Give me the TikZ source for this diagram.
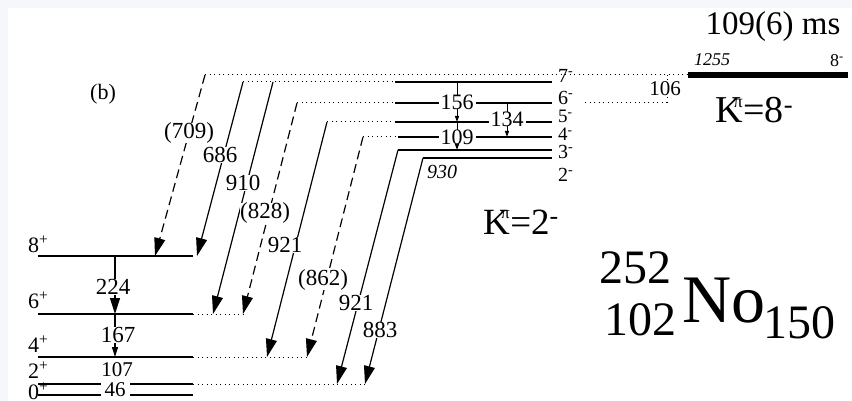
\documentclass[tikz,border=0pt]{standalone}
\usepackage{fontspec}
\setmainfont{Liberation Serif}
\usetikzlibrary{arrows.meta}
\definecolor{pagegray}{HTML}{F5F7FA}
\newcommand{\fs}[1]{\fontsize{#1}{#1}\selectfont}
\newcommand{\jpi}[2]{#1\textsuperscript{#2}}
\newcommand{\kpi}[2]{K\kern-.24em\raisebox{.42em}{\fs{#1}π}\kern.02em=#2\textsuperscript{-}}

\begin{document}
\begin{tikzpicture}[x=1pt,y=-1pt,
  lvl/.style={line width=1.4pt},
  ext/.style={line width=1pt,dash pattern=on 1pt off 3.5pt},
  gam/.style={line width=1.2pt,-{Triangle[length=18pt,width=11pt]}},
  tent/.style={gam,dash pattern=on 9pt off 5pt},
  inb/.style={line width=1pt,-{Triangle[length=6pt,width=4pt]}},
  elab/.style={font=\fs{23},inner sep=0pt,fill=white},
  spin/.style={font=\fs{22},inner sep=0pt}]
\fill[pagegray] (0,0) rectangle (852,401);
\fill[white] (8,8) rectangle (852,401);
\useasboundingbox (0,0) rectangle (852,401);

% ground-state band
\coordinate (g8L) at (38,256);  \coordinate (g8R) at (193,256);
\coordinate (g6L) at (38,314);  \coordinate (g6R) at (193,314);
\coordinate (g4L) at (38,357);  \coordinate (g4R) at (193,357);
\coordinate (g2L) at (38,384);  \coordinate (g2R) at (193,384);
\coordinate (g0L) at (38,395);  \coordinate (g0R) at (193,395);
\coordinate (g8m) at (115,256); \coordinate (g6m) at (115,314); \coordinate (g4m) at (115,357);
% where the decays land
\coordinate (f709) at (155,256);  \coordinate (f686) at (197,256);
\coordinate (f910) at (213,314);  \coordinate (f828) at (243,314);
\coordinate (f921a) at (267,357); \coordinate (f862) at (307,357);
\coordinate (f921b) at (337,384); \coordinate (f883) at (365,384);
% K=2- band
\coordinate (k7a) at (243,82);  \coordinate (k7b) at (273,82);
\coordinate (k7L) at (395,82);  \coordinate (k7R) at (552,82);
\coordinate (k6a) at (297,103); \coordinate (k6L) at (395,103); \coordinate (k6R) at (552,103);
\coordinate (k5a) at (327,122); \coordinate (k5L) at (395,122); \coordinate (k5R) at (552,122);
\coordinate (k4a) at (363,137); \coordinate (k4L) at (398,137); \coordinate (k4R) at (552,137);
\coordinate (k3L) at (398,150); \coordinate (k3R) at (552,150);
\coordinate (k2L) at (423,158); \coordinate (k2R) at (552,158);
\coordinate (k7m) at (457,82);  \coordinate (k5m) at (457,122); \coordinate (k3m) at (457,150);
\coordinate (k6m) at (507,103); \coordinate (k4m) at (507,137);
\coordinate (k6x) at (585,103);
% isomer
\coordinate (isoA) at (205,75); \coordinate (isoL) at (688,75); \coordinate (isoR) at (848,75);
\coordinate (i106a) at (667,75); \coordinate (i106b) at (667,103);

% levels
\foreach \a/\b in {g8L/g8R,g6L/g6R,g4L/g4R,g2L/g2R,g0L/g0R,k7L/k7R,k6L/k6R,k5L/k5R,k4L/k4R,k3L/k3R,k2L/k2R}
  \draw[lvl] (\a) -- (\b);
\draw[line width=6pt] (isoL) -- (isoR);
\foreach \a/\b in {isoA/isoL,k7a/k7L,k6a/k6L,k5a/k5L,k4a/k4L,g6R/f828,g4R/f862,g2R/f883,k6x/i106b,i106a/i106b}
  \draw[ext] (\a) -- (\b);

% decays out of the band
\foreach \a/\b/\s in {isoA/f709/tent,k7a/f686/gam,k7b/f910/gam,k6a/f828/tent,k5a/f921a/gam,k4a/f862/tent,k3L/f921b/gam,k2L/f883/gam}
  \draw[\s] (\a) -- (\b);
\draw[inb] (k7m) -- (k5m);
\draw[inb] (k5m) -- (k3m);
\draw[inb] (k6m) -- (k4m);
\draw[line width=1.2pt,-{Triangle[length=16pt,width=10pt]}] (g8m) -- (g6m);
\draw[line width=1.2pt,-{Triangle[length=10pt,width=6pt]}] (g6m) -- (g4m);

% energies
\node[elab] (e709) at (189,133) {(709)};
\node[elab] (e686) at (220,155) {686};
\node[elab] (e910) at (243,183) {910};
\node[elab] (e828) at (265,213) {(828)};
\node[elab] (e921a) at (285,245) {921};
\node[elab] (e862) at (323,280) {(862)};
\node[elab] (e921b) at (356,303) {921};
\node[elab] (e883) at (380,330) {883};
\node[elab] (e224) at (113,287) {224};
\node[elab] (e167) at (118,335) {167};
\node[elab,font=\fs{21}] (e107) at (117,370) {107};
\node[elab,font=\fs{21},inner xsep=4pt] (e46) at (115,390) {46};
\node[elab,inner xsep=2pt,font=\fs{22}] (e156) at (457,102) {156};
\node[elab,inner xsep=2pt,font=\fs{22}] (e134) at (507,119) {134};
\node[elab,inner xsep=2pt,font=\fs{22}] (e109) at (457,137) {109};
\node[elab,font=\fs{21}] (e106) at (665,89) {106};
\node[font=\fs{20}\itshape,inner sep=0pt] (e930) at (442,172) {930};

% spins
\node[spin,anchor=base west] (s8p) at (28,252) {\jpi{8}{+}};
\node[spin,anchor=base west] (s6p) at (28,308) {\jpi{6}{+}};
\node[spin,anchor=base west] (s4p) at (28,352) {\jpi{4}{+}};
\node[spin,anchor=base west] (s2p) at (28,378) {\jpi{2}{+}};
\node[spin,anchor=base west] (s0p) at (28,399) {\jpi{0}{+}};
\node[spin,font=\fs{20},anchor=base west] (s7m) at (558,83) {\jpi{7}{-}};
\node[spin,font=\fs{20},anchor=base west] (s6m) at (558,105) {\jpi{6}{-}};
\node[spin,font=\fs{19},anchor=base west] (s5m) at (558,123) {\jpi{5}{-}};
\node[spin,font=\fs{19},anchor=base west] (s4m) at (558,141) {\jpi{4}{-}};
\node[spin,font=\fs{20},anchor=base west] (s3m) at (558,159) {\jpi{3}{-}};
\node[spin,font=\fs{20},anchor=base west] (s2m) at (558,182) {\jpi{2}{-}};

% isomer and titles
\node[font=\fs{18}\itshape,inner sep=0pt] (e1255) at (712,60) {1255};
\node[font=\fs{18},inner sep=0pt,anchor=base west] (s8m) at (830,67) {\jpi{8}{-}};
\node[font=\fs{33},inner sep=0pt,anchor=base] (life) at (773,35) {109(6) ms};
\node[font=\fs{38},inner sep=0pt,anchor=base west] (k8) at (715,123) {\kpi{18}{8}};
\node[font=\fs{37},inner sep=0pt,anchor=base west] (k2) at (483,234) {\kpi{17}{2}};
\node[font=\fs{22},inner sep=0pt] (panel) at (103,94) {(b)};
\node[font=\fs{68},inner sep=0pt,anchor=base west] (no) at (682,322) {No};
\node[font=\fs{48},inner sep=0pt,anchor=base east] (mass) at (672,283) {252};
\node[font=\fs{48},inner sep=0pt,anchor=base east] (zee) at (677,335) {102};
\node[font=\fs{48},inner sep=0pt,anchor=base west] (neu) at (763,338) {150};
\end{tikzpicture}
\end{document}
